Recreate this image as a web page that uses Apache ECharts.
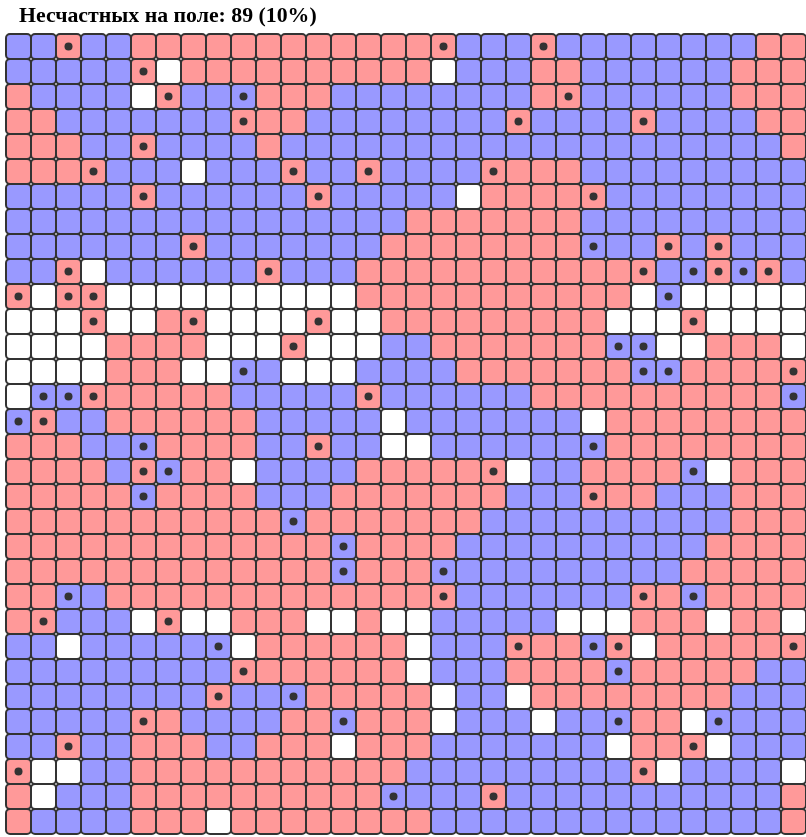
<!DOCTYPE html>
<html>
<head>
<meta charset="utf-8">
<script src="https://cdn.jsdelivr.net/npm/echarts@6/dist/echarts.min.js"></script>
<style>
html,body{margin:0;padding:0;background:#fff;}
#chart{width:806px;height:837px;}
</style>
</head>
<body>
<div id="chart"></div>
<script>
// Board state: B = blue agent, R = red agent, W = empty; lowercase = unhappy agent
var boardRows = [
  "BBrBBRRRRRRRRRRR" + "RrBBBrBBBBBBBBRR",
  "BBBBBrWRRRRRRRRR" + "RWBBBRRBBBBBBRRR",
  "RBBBBWrBBbRRRBBB" + "BBBBBRrBBBBBBRRR",
  "RRBBBBBBBrRRBBBB" + "BBBBrBBBBrBBBBRR",
  "RRRBBrBBBBRBBBBB" + "BBBBBBBBBBBBBBBR",
  "RRRrBBBWBBBrBBrB" + "BBBrRRRBBBBBBBBB",
  "BBBBBrBBBBBBrBBB" + "BBWRRRRrBBBBBBBB",
  "BBBBBBBBBBBBBBBB" + "RRRRRRRBBBBBBBBB",
  "BBBBBBBrBBBBBBBR" + "RRRRRRRbBBrBrBBB",
  "BBrWBBBBBBrBBBRR" + "RRRRRRRRRrBbrbrB",
  "rWrrWWWWWWWWWWRR" + "RRRRRRRRRWbWWWWW",
  "WWWrWWRrWWWWrWWR" + "RRRRRRRRWWWrWWWW",
  "WWWWRRRRWWWrWWWB" + "BRRRRRRRbbWWRRRW",
  "WWWWRRRWWbBWWWBB" + "BBRRRRRRRbbRRRRr",
  "WbbrRRRRRBBBBBrB" + "BBBBBRRRRRRRRRRb",
  "brBBRRRRRRBBBBBW" + "BBBBBBBWRRRRRRRR",
  "RRRBBbRRRRBBrBBW" + "WBBBBBBbRRRRRRRR",
  "RRRRBrbRRWBBBBRR" + "RRRrWBBRRRRbWRRR",
  "RRRRRbRRRRBBBRRR" + "RRRRBBBrRRBBBRRR",
  "RRRRRRRRRRRbRRRR" + "RRRBBBBBBBBBBRRR",
  "RRRRRRRRRRRRRbRR" + "RRBBBBBBBBBBRRRR",
  "RRRRRRRRRRRRRbRR" + "RbBBBBBBBBBRRRRR",
  "RRbBRRRRRRRRRRRR" + "RrBBBBBBBrRbRRRR",
  "RrBBBWrWWRRRWWRW" + "WBBBBBWWWRRRWRRW",
  "BBWBBBBBbWRRRRRR" + "WBBBrRRbrWRRRRRr",
  "BBBBBBBBBrRRRRRR" + "WBBBRRRRbRRRRRBB",
  "BBBBBBBBrBBbRRRR" + "RWBBWRRRRRRRRBBB",
  "BBBBBrRBBBBRRbRR" + "RWBBBWBBbRRWbBBB",
  "BBrBBRRRBBRRRWRR" + "RBBBBBBBWRRrWBBB",
  "rWWBBRRRRRRRRRRR" + "BBBBBBBBBrWBBBBW",
  "RWBBBRRRRRRRRRRb" + "BBBrBBBBBBBBBBBR",
  "RBBBBRRRWRRRRRRR" + "RBBBBBBBBBBBBBBR"
];
var unhappyCount = 89;
var unhappyPercent = 10;
var titleText = "Несчастных на поле: " + unhappyCount + " (" + unhappyPercent + "%)";

var nCols = boardRows[0].length;
var nRows = boardRows.length;
var colCats = [], rowCats = [];
for (var i = 0; i < nCols; i++) colCats.push(String(i));
for (var j = 0; j < nRows; j++) rowCats.push(String(j));

var typeIndex = {B: 0, R: 1, W: 2};
var fills = ['#9999ff', '#ff9999', '#ffffff'];
var cellData = [], dotData = [];
boardRows.forEach(function (row, r) {
  for (var c = 0; c < row.length; c++) {
    var ch = row[c];
    cellData.push([c, r, typeIndex[ch.toUpperCase()]]);
    if (ch === 'b' || ch === 'r') dotData.push([c, r]);
  }
});

var chart = echarts.init(document.getElementById('chart'), null, {renderer: 'canvas'});
chart.setOption({
  animation: false,
  backgroundColor: '#ffffff',
  title: {
    text: titleText,
    left: 19,
    top: 5.5,
    padding: 0,
    textStyle: {fontFamily: 'Liberation Serif', fontWeight: 'bold', fontSize: 21.8, color: '#000'}
  },
  grid: {left: 6, top: 34, width: 800, height: 800},
  xAxis: {type: 'category', data: colCats, show: false},
  yAxis: {type: 'category', data: rowCats, inverse: true, show: false},
  series: [
    {
      type: 'custom',
      clip: false,
      data: cellData,
      renderItem: function (params, api) {
        var p = api.coord([api.value(0), api.value(1)]);
        var s = api.size([1, 1]);
        return {
          type: 'rect',
          shape: {x: p[0] - s[0] / 2, y: p[1] - s[1] / 2, width: s[0], height: s[1], r: 4},
          style: {fill: fills[api.value(2)], stroke: '#333333', lineWidth: 2}
        };
      }
    },
    {
      type: 'scatter',
      data: dotData,
      symbol: 'circle',
      symbolSize: 8,
      itemStyle: {color: '#333333', opacity: 1},
      z: 5
    }
  ]
});
</script>
</body>
</html>
